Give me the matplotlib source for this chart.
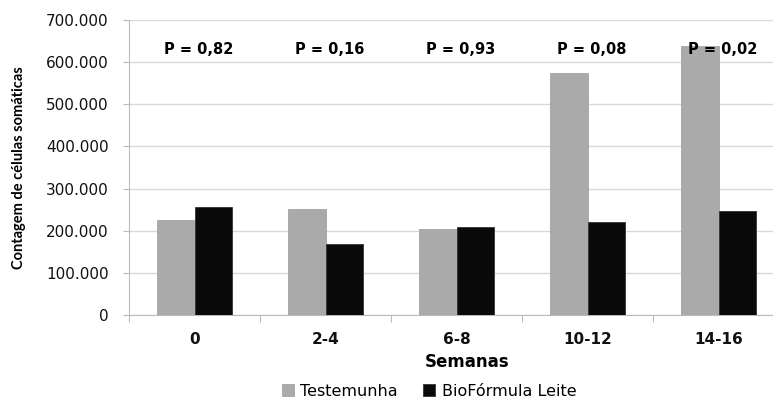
import matplotlib.pyplot as plt
import numpy as np

# data
semanas = ["0", "2-4", "6-8", "10-12", "14-16"]
testemunha = [226000, 252000, 204000, 574000, 639000]
bioformula = [256000, 169000, 210000, 221000, 248000]
p_values = ["P = 0,82", "P = 0,16", "P = 0,93", "P = 0,08", "P = 0,02"]
y_ticks = [0, 100000, 200000, 300000, 400000, 500000, 600000, 700000]
y_tick_labels = ["0", "100.000", "200.000", "300.000", "400.000",
                 "500.000", "600.000", "700.000"]


def draw_chart():
    fig = plt.figure(figsize=(7.73, 3.98), dpi=100)
    # right edge of the plot area runs past the picture, as in the reference
    ax = fig.add_axes([0.1669, 0.2085, 0.8474, 0.7412])

    x = np.arange(len(semanas))
    w = 0.285
    ax.bar(x - w / 2, testemunha, w, color='#aaaaaa', edgecolor='#9a9a9a',
           linewidth=0.5, label='Testemunha', zorder=3)
    ax.bar(x + w / 2, bioformula, w, color='#0a0a0a', edgecolor='#333333',
           linewidth=0.6, label='BioFórmula Leite', zorder=3)

    # p-values above each group
    for xi, p in zip(x, p_values):
        ax.text(xi + 0.03, 629000, p, ha='center', va='center', fontsize=10.5,
                fontweight='bold', color='black', zorder=4)

    ax.set_xlim(-0.5, len(semanas) - 0.5)
    ax.set_ylim(0, 700000)

    ax.set_yticks(y_ticks)
    ax.set_yticklabels(y_tick_labels, fontsize=11, color='#111111')
    ax.set_xticks(x)
    ax.set_xticklabels(semanas, fontsize=11, fontweight='bold', color='#111111')
    ax.set_xticks(np.arange(-0.5, len(semanas) + 0.5, 1), minor=True)

    ax.tick_params(axis='x', which='major', length=0, pad=12)
    ax.tick_params(axis='x', which='minor', length=5, color='#bbbbbb',
                   width=0.8)
    ax.tick_params(axis='y', length=4, color='#bbbbbb', width=0.8, pad=10.5)

    ax.grid(axis='y', color='#d9d9d9', linewidth=1, zorder=0)
    for side in ['top', 'right']:
        ax.spines[side].set_visible(False)
    ax.spines['left'].set_color('#bbbbbb')
    ax.spines['bottom'].set_color('#bbbbbb')

    ax.set_ylabel("Contagem de células somáticas", fontsize=10.5,
                  family=['Lato', 'DejaVu Sans'], fontweight='bold')
    ax.yaxis.set_label_coords(-0.158, 0.5)
    fig.text(467 / 773, 1 - 362 / 398, "Semanas", ha='center', va='center',
             fontsize=12, fontweight='bold')

    fig.legend(loc='center', bbox_to_anchor=(429 / 773, 1 - 391 / 398), ncol=2,
               frameon=False, fontsize=11.5, handlelength=0.75,
               handleheight=0.75, handletextpad=0.4, columnspacing=1.6,
               borderpad=0.2)

    fig.savefig('out.png', dpi=100)


if __name__ == "__main__":
    draw_chart()
